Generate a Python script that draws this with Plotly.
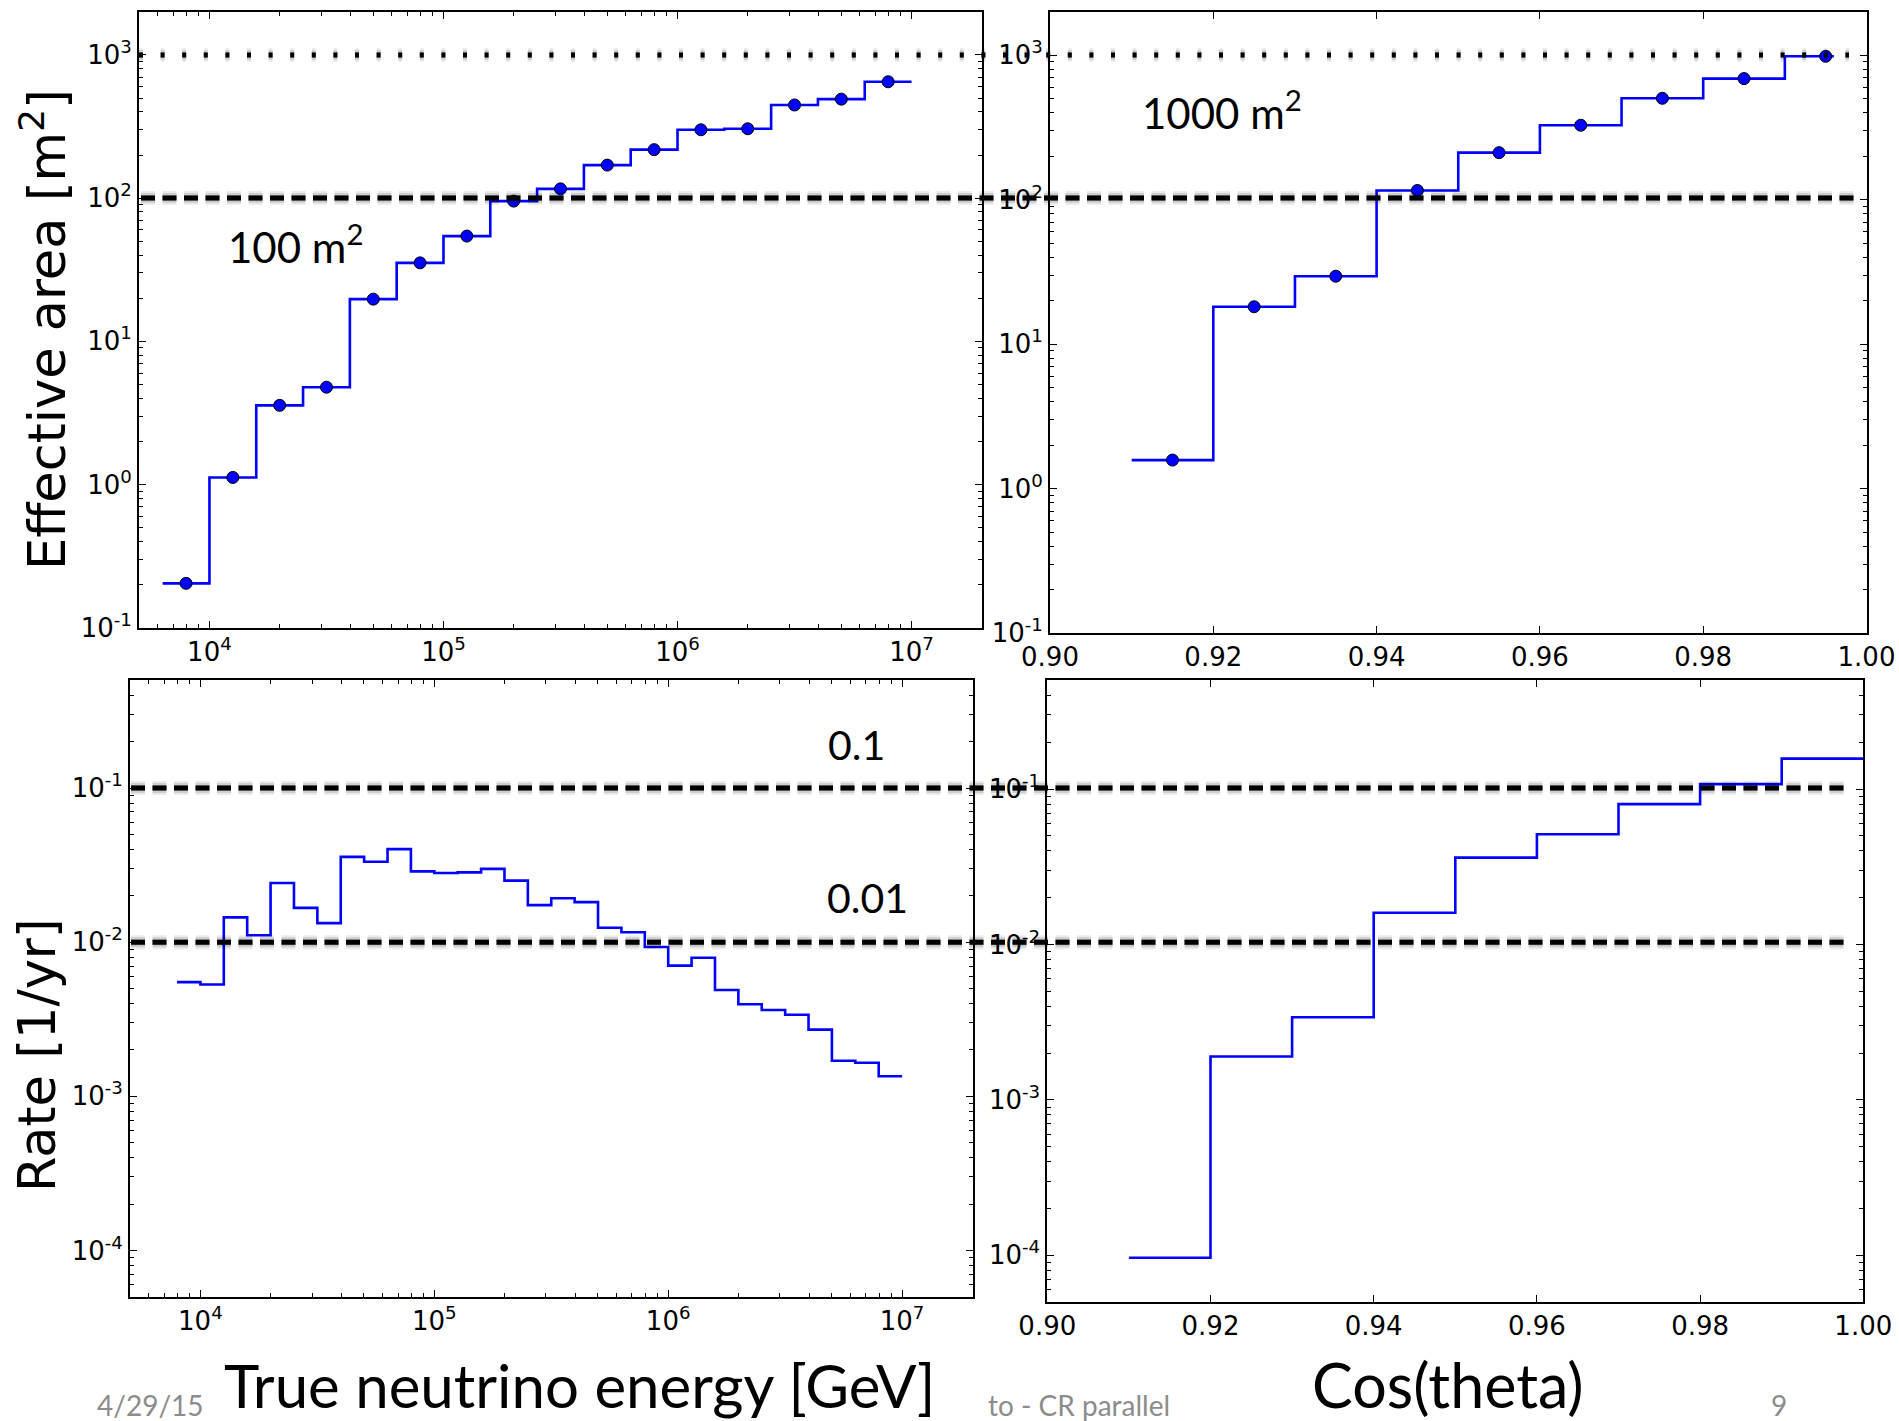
import plotly.graph_objects as go

W, H = 1899, 1421

# ---------------- data ----------------
# effective area vs true neutrino energy, bin edges in log10(E/GeV)
AREA_E_EDGES_LOG = [3.8, 4.0, 4.2, 4.4, 4.6, 4.8, 5.0, 5.2, 5.4, 5.6, 5.8,
                    6.0, 6.2, 6.4, 6.6, 6.8, 7.0]
AREA_E_CENTERS_LOG = [3.9, 4.1, 4.3, 4.5, 4.7, 4.9, 5.1, 5.3, 5.5, 5.7, 5.9,
                      6.1, 6.3, 6.5, 6.7, 6.9]
AREA_VS_ENERGY = [0.204, 1.12, 3.57, 4.78, 19.7, 35.3, 54.3, 95.3, 116, 170,
                  218, 300, 305, 447, 491, 649]

# effective area vs cos(theta)
AREA_COS_EDGES = [0.91, 0.92, 0.93, 0.94, 0.95, 0.96, 0.97, 0.98, 0.99, 0.996]
AREA_COS_CENTERS = [0.915, 0.925, 0.935, 0.945, 0.955, 0.965, 0.975, 0.985, 0.995]
AREA_VS_COS = [1.58, 18.2, 29.6, 116, 212, 328, 504, 690, 984]

# event rate vs true neutrino energy, bin edges in log10(E/GeV)
RATE_E_EDGES_LOG = [3.9, 4.0, 4.1, 4.2, 4.3, 4.4, 4.5, 4.6, 4.7, 4.8, 4.9,
                    5.0, 5.1, 5.2, 5.3, 5.4, 5.5, 5.6, 5.7, 5.8, 5.9,
                    6.0, 6.1, 6.2, 6.3, 6.4, 6.5, 6.6, 6.7, 6.8, 6.9, 7.0]
RATE_VS_ENERGY = [0.00551, 0.00531, 0.0145, 0.0111, 0.0242, 0.0167, 0.0133,
                  0.0358, 0.0333, 0.0402, 0.0288, 0.0281, 0.0284, 0.0299,
                  0.0251, 0.0174, 0.0193, 0.0182, 0.0124, 0.0116, 0.0093,
                  0.00705, 0.00792, 0.0049, 0.00396, 0.00363, 0.00338,
                  0.00271, 0.0017, 0.00165, 0.00135]

# event rate vs cos(theta)
RATE_COS_EDGES = [0.91, 0.92, 0.93, 0.94, 0.95, 0.96, 0.97, 0.98, 0.99, 1.00]
RATE_VS_COS = [0.0000965, 0.0019, 0.0034, 0.016, 0.0362, 0.0512, 0.080, 0.1075, 0.157]

# reference levels
AREA_LEVELS = [1000, 100]
RATE_LEVELS = [0.1, 0.01]

LOG_TICKS_AREA = [0.1, 1, 10, 100, 1000]
LOG_TEXT_AREA = ["10<sup>-1</sup>", "10<sup>0</sup>", "10<sup>1</sup>",
                 "10<sup>2</sup>", "10<sup>3</sup>"]
LOG_TICKS_RATE = [1e-4, 1e-3, 1e-2, 1e-1]
LOG_TEXT_RATE = ["10<sup>-4</sup>", "10<sup>-3</sup>", "10<sup>-2</sup>", "10<sup>-1</sup>"]
LOG_TICKS_E = [1e4, 1e5, 1e6, 1e7]
LOG_TEXT_E = ["10<sup>4</sup>", "10<sup>5</sup>", "10<sup>6</sup>", "10<sup>7</sup>"]
COS_TICKS = [0.90, 0.92, 0.94, 0.96, 0.98, 1.00]
COS_TEXT = ["0.90", "0.92", "0.94", "0.96", "0.98", "1.00"]

BLUE = "#0000ff"


def px(x):
    return x / W


def py(y):
    return 1 - y / H


def step_xy(edges, values):
    return list(edges), list(values) + [values[-1]]


fig = go.Figure()

line_style = dict(color=BLUE, width=2.6, shape="hv")
marker_style = dict(color=BLUE, size=12, line=dict(color="black", width=1))

# top-left: area vs energy
sx, sy = step_xy([10 ** e for e in AREA_E_EDGES_LOG], AREA_VS_ENERGY)
fig.add_trace(go.Scatter(x=sx, y=sy, mode="lines", line=line_style,
                         xaxis="x", yaxis="y", showlegend=False))
fig.add_trace(go.Scatter(x=[10 ** c for c in AREA_E_CENTERS_LOG], y=AREA_VS_ENERGY,
                         mode="markers", marker=marker_style,
                         xaxis="x", yaxis="y", showlegend=False))

# top-right: area vs cos(theta)
sx, sy = step_xy(AREA_COS_EDGES, AREA_VS_COS)
fig.add_trace(go.Scatter(x=sx, y=sy, mode="lines", line=line_style,
                         xaxis="x2", yaxis="y2", showlegend=False))
fig.add_trace(go.Scatter(x=AREA_COS_CENTERS, y=AREA_VS_COS, mode="markers",
                         marker=marker_style, xaxis="x2", yaxis="y2", showlegend=False))

# bottom-left: rate vs energy
sx, sy = step_xy([10 ** e for e in RATE_E_EDGES_LOG], RATE_VS_ENERGY)
fig.add_trace(go.Scatter(x=sx, y=sy, mode="lines", line=line_style,
                         xaxis="x3", yaxis="y3", showlegend=False))

# bottom-right: rate vs cos(theta)
sx, sy = step_xy(RATE_COS_EDGES, RATE_VS_COS)
fig.add_trace(go.Scatter(x=sx, y=sy, mode="lines", line=line_style,
                         xaxis="x4", yaxis="y4", showlegend=False))

tickfont = dict(family="DejaVu Sans", size=26, color="black")
base = dict(showline=True, linecolor="black", linewidth=1.8, mirror="allticks",
            ticks="inside", ticklen=7, tickwidth=1, tickcolor="black",
            showgrid=False, zeroline=False, tickfont=tickfont, automargin=False)
minor = dict(ticks="inside", ticklen=4, tickwidth=1, tickcolor="black",
             showgrid=False, dtick="D1")

E_RANGE = [3.69897, 7.30103]
AREA_RANGE = [-1, 3.30103]
RATE_RANGE = [-4.30103, -0.30103]

fig.update_layout(
    width=W, height=H,
    margin=dict(l=0, r=0, t=0, b=0, pad=0),
    paper_bgcolor="white", plot_bgcolor="white",
    xaxis=dict(base, type="log", range=E_RANGE, domain=[px(139), px(982)], anchor="y",
               tickmode="array", tickvals=LOG_TICKS_E, ticktext=LOG_TEXT_E, minor=minor),
    yaxis=dict(base, type="log", range=AREA_RANGE, domain=[py(627.7), py(11.8)], anchor="x",
               tickmode="array", tickvals=LOG_TICKS_AREA, ticktext=LOG_TEXT_AREA, minor=minor),
    xaxis2=dict(base, range=[0.9, 1.0], domain=[px(1050), px(1866.5)], anchor="y2",
                tickmode="array", tickvals=COS_TICKS, ticktext=COS_TEXT),
    yaxis2=dict(base, type="log", range=AREA_RANGE, domain=[py(633.3), py(11.8)], anchor="x2",
                tickmode="array", tickvals=LOG_TICKS_AREA, ticktext=LOG_TEXT_AREA, minor=minor),
    xaxis3=dict(base, type="log", range=E_RANGE, domain=[px(130), px(972.5)], anchor="y3",
                tickmode="array", tickvals=LOG_TICKS_E, ticktext=LOG_TEXT_E, minor=minor),
    yaxis3=dict(base, type="log", range=RATE_RANGE, domain=[py(1296.8), py(680.4)], anchor="x3",
                tickmode="array", tickvals=LOG_TICKS_RATE, ticktext=LOG_TEXT_RATE, minor=minor),
    xaxis4=dict(base, range=[0.9, 1.0], domain=[px(1047.3), px(1863.3)], anchor="y4",
                tickmode="array", tickvals=COS_TICKS, ticktext=COS_TEXT),
    yaxis4=dict(base, type="log", range=RATE_RANGE, domain=[py(1302.1), py(680.4)], anchor="x4",
                tickmode="array", tickvals=LOG_TICKS_RATE, ticktext=LOG_TEXT_RATE, minor=minor),
)

# reference levels drawn across both panels of a row, with a soft drop shadow
DOT = "4px,17.6px"
DASH = "14px,7.5px"
level_specs = [
    ("y", AREA_LEVELS[0], DOT, px(139), px(1849)),
    ("y", AREA_LEVELS[1], DASH, px(141), px(1859)),
    ("y3", RATE_LEVELS[0], DASH, px(131), px(1845)),
    ("y3", RATE_LEVELS[1], DASH, px(131), px(1845)),
]
shapes = []
for yref, val, dash, x0, x1 in level_specs:
    for w, a in [(14, 0.08), (10, 0.12), (6, 0.18)]:
        shapes.append(dict(type="line", xref="paper", yref=yref, x0=x0, x1=x1,
                           ysizemode="pixel", yanchor=val, y0=-5, y1=-5,
                           line=dict(color=f"rgba(0,0,0,{a})", width=w, dash=dash),
                           layer="above"))
for yref, val, dash, x0, x1 in level_specs:
    shapes.append(dict(type="line", xref="paper", yref=yref, x0=x0, x1=x1, y0=val, y1=val,
                       line=dict(color="black", width=5, dash=dash), layer="above"))
fig.update_layout(shapes=shapes)

slide_font = "Lato"
ann = [
    dict(text="Effective area [m<sup>2</sup>]", x=px(44), y=py(330), textangle=-90,
         font=dict(family="DejaVu Sans", size=51, color="black")),
    dict(text="Rate [1/yr]", x=px(37), y=py(1055), textangle=-90,
         font=dict(family="DejaVu Sans", size=51, color="black")),
    dict(text="True neutrino energy [GeV]", x=px(579), y=py(1385),
         font=dict(family=slide_font, size=60, color="black")),
    dict(text="Cos(theta)", x=px(1448), y=py(1384),
         font=dict(family=slide_font, size=61, color="black")),
    dict(text="100 m<sup>2</sup>", x=px(295), y=py(244),
         font=dict(family=slide_font, size=42, color="black")),
    dict(text="1000 m<sup>2</sup>", x=px(1222), y=py(110),
         font=dict(family=slide_font, size=42, color="black")),
    dict(text="0.1", x=px(856), y=py(745),
         font=dict(family=slide_font, size=41, color="black")),
    dict(text="0.01", x=px(867), y=py(897),
         font=dict(family=slide_font, size=41, color="black")),
    dict(text="4/29/15", x=px(150), y=py(1405),
         font=dict(family=slide_font, size=28, color="#8c8c8c")),
    dict(text="to - CR parallel", x=px(1079), y=py(1405),
         font=dict(family=slide_font, size=28, color="#8c8c8c")),
    dict(text="9", x=px(1779), y=py(1405),
         font=dict(family=slide_font, size=28, color="#8c8c8c")),
]
for a in ann:
    a.update(xref="paper", yref="paper", showarrow=False, xanchor="center", yanchor="middle")
fig.update_layout(annotations=ann)

fig.write_html("out.html")
